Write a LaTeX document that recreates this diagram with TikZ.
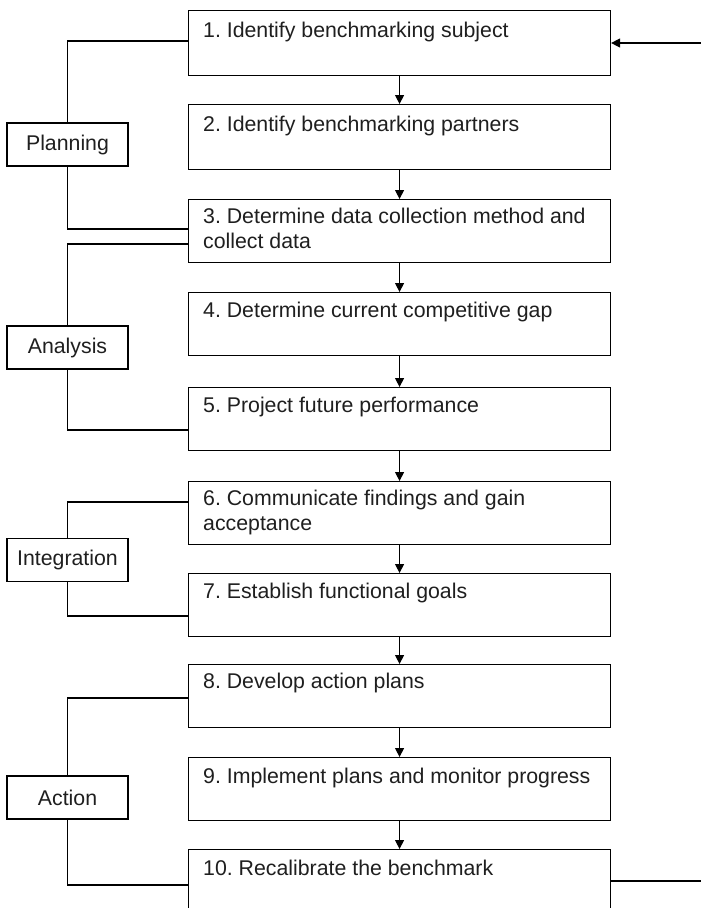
\documentclass[tikz,border=0pt]{standalone}
\usepackage{fontspec}
\setmainfont{Liberation Sans}
\usetikzlibrary{arrows.meta}

\newcommand{\twolines}[2]{\vtop{\baselineskip=25pt\hbox{#1}\hbox{#2}}}

\tikzset{
  stepbox/.style={draw, line width=1.1pt, rectangle, inner sep=0pt,
    minimum width=422pt, minimum height=63pt, anchor=north west},
  steptext/.style={anchor=base west, inner sep=0pt,
    font=\fontsize{21.3}{25}\selectfont\frenchspacing, text=black!88},
  phasebox/.style={draw, line width=1.1pt, rectangle, inner sep=0pt,
    minimum width=121pt, minimum height=43pt,
    font=\fontsize{21.3}{25}\selectfont, text=black!88},
  link/.style={line width=1.1pt},
  flow/.style={line width=1.1pt, -{Triangle[length=9pt,width=9pt]}}
}

\begin{document}
\begin{tikzpicture}[x=1pt, y=-1pt]
\clip (0,0) rectangle (701,908);
\fill[white] (0,0) rectangle (701,908);

% process steps
\node[stepbox, minimum height=65pt] (b1) at (188,10) {};
\node[stepbox, minimum height=65pt] (b2) at (188,104) {};
\node[stepbox] (b3) at (188,199) {};
\node[stepbox] (b4) at (188,292) {};
\node[stepbox] (b5) at (188,387) {};
\node[stepbox] (b6) at (188,481) {};
\node[stepbox] (b7) at (188,573) {};
\node[stepbox] (b8) at (188,664) {};
\node[stepbox] (b9) at (188,757) {};
\node[stepbox] (b10) at (188,849) {};

\node[steptext] (t1) at ([xshift=15pt, yshift=-27pt]b1.north west) {1. Identify benchmarking subject};
\node[steptext] (t2) at ([xshift=15pt, yshift=-27pt]b2.north west) {2. Identify benchmarking partners};
\node[steptext] (t3) at ([xshift=15pt, yshift=-24pt]b3.north west) {\twolines{3. Determine data collection method and}{collect data}};
\node[steptext] (t4) at ([xshift=15pt, yshift=-25pt]b4.north west) {4. Determine current competitive gap};
\node[steptext] (t5) at ([xshift=15pt, yshift=-25pt]b5.north west) {5. Project future performance};
\node[steptext] (t6) at ([xshift=15pt, yshift=-24pt]b6.north west) {\twolines{6. Communicate findings and gain}{acceptance}};
\node[steptext] (t7) at ([xshift=15pt, yshift=-25pt]b7.north west) {7. Establish functional goals};
\node[steptext] (t8) at ([xshift=15pt, yshift=-24pt]b8.north west) {8. Develop action plans};
\node[steptext] (t9) at ([xshift=15pt, yshift=-26pt]b9.north west) {9. Implement plans and monitor progress};
\node[steptext] (t10) at ([xshift=15pt, yshift=-26pt]b10.north west) {10. Recalibrate the benchmark};

% phase labels
\node[phasebox] (planning) at (67.5,144.5) {Planning};
\node[phasebox] (analysis) at (67.5,347.5) {Analysis};
\node[phasebox] (integration) at (67.5,560) {Integration};
\node[phasebox] (action) at (67.5,797.5) {Action};

% phase brackets
\draw[link] (planning.north) |- ([yshift=-31pt]b1.north west);
\draw[link] (planning.south) |- ([yshift=-30pt]b3.north west);
\draw[link] (analysis.north) |- ([yshift=-45pt]b3.north west);
\draw[link] (analysis.south) |- ([yshift=-43pt]b5.north west);
\draw[link] (integration.north) |- ([yshift=-21pt]b6.north west);
\draw[link] (integration.south) |- ([yshift=-43pt]b7.north west);
\draw[link] (action.north) |- ([yshift=-34pt]b8.north west);
\draw[link] (action.south) |- ([yshift=-36pt]b10.north west);

% flow between steps
\foreach \a/\b in {b1/b2, b2/b3, b3/b4, b4/b5, b5/b6, b6/b7, b7/b8, b8/b9, b9/b10}
  \draw[flow] (\a.south) -- (\b.north);

% feedback loop ends
\coordinate (loopin) at (701,43);
\coordinate (loopout) at (701,881);
\draw[flow] (loopin) -- (loopin -| b1.east);
\draw[link] (loopout -| b10.east) -- (loopout);
\end{tikzpicture}
\end{document}
